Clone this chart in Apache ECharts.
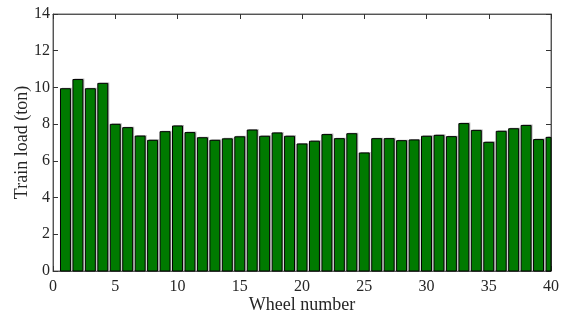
<!DOCTYPE html>
<html>
<head>
<meta charset="utf-8">
<script src="https://cdn.jsdelivr.net/npm/echarts@6/dist/echarts.min.js"></script>
<style>
  html, body { margin: 0; padding: 0; background: #fff; }
  #chart { width: 563px; height: 314px; }
</style>
</head>
<body>
<div id="chart"></div>
<script>
// wheel numbers and train load
var wheels = [];
for (var i = 1; i <= 40; i++) wheels.push(i);
var loads = [
  9.93, 10.43, 9.93, 10.22, 7.99, 7.81, 7.35, 7.12, 7.59, 7.90,
  7.54, 7.26, 7.12, 7.20, 7.31, 7.68, 7.34, 7.52, 7.34, 6.92,
  7.07, 7.43, 7.21, 7.48, 6.43, 7.21, 7.21, 7.10, 7.14, 7.34,
  7.39, 7.32, 8.03, 7.66, 7.01, 7.61, 7.75, 7.93, 7.16, 7.28
];
var xTicks = { min: 0, max: 40, interval: 5 };
var yTicks = { min: 0, max: 14, interval: 2 };

var font = 'Liberation Serif';
var txt = '#262626';
var halfBar = 0.4;

var myChart = echarts.init(document.getElementById('chart'));

function axisLineStyle() {
  return { show: true, onZero: false, lineStyle: { color: '#555', width: 1 } };
}
function tickStyle() {
  return { show: true, inside: true, length: 5, lineStyle: { color: '#333', width: 1 } };
}

var option = {
  animation: false,
  grid: {
    left: 53, right: 12, top: 14, bottom: 43,
    containLabel: false, outerBoundsMode: 'none',
    show: true, borderColor: '#666', borderWidth: 1, backgroundColor: 'transparent'
  },
  xAxis: [{
    type: 'value', min: xTicks.min, max: xTicks.max, interval: xTicks.interval,
    name: 'Wheel number', nameLocation: 'middle', nameGap: 25, nameMoveOverlap: false,
    nameTextStyle: { fontFamily: font, fontSize: 18, color: txt },
    axisLabel: { fontFamily: font, fontSize: 16, color: txt, margin: 8 },
    axisLine: axisLineStyle(), axisTick: tickStyle(), splitLine: { show: false }
  }, {
    type: 'value', min: xTicks.min, max: xTicks.max, interval: xTicks.interval,
    position: 'top', axisLabel: { show: false },
    axisLine: axisLineStyle(), axisTick: tickStyle(), splitLine: { show: false }
  }],
  yAxis: [{
    type: 'value', min: yTicks.min, max: yTicks.max, interval: yTicks.interval,
    name: 'Train load (ton)', nameLocation: 'middle', nameGap: 22, nameMoveOverlap: false,
    nameTextStyle: { fontFamily: font, fontSize: 18, color: txt },
    axisLabel: { fontFamily: font, fontSize: 16, color: txt, margin: 3 },
    axisLine: axisLineStyle(), axisTick: tickStyle(), splitLine: { show: false }
  }, {
    type: 'value', min: yTicks.min, max: yTicks.max, interval: yTicks.interval,
    position: 'right', axisLabel: { show: false },
    axisLine: axisLineStyle(), axisTick: tickStyle(), splitLine: { show: false }
  }],
  series: [{
    type: 'custom',
    xAxisIndex: 0,
    yAxisIndex: 0,
    data: wheels.map(function (w, k) { return [w, loads[k]]; }),
    renderItem: function (params, api) {
      var x = api.value(0), y = api.value(1);
      var p0 = api.coord([x - halfBar, y]);
      var p1 = api.coord([x + halfBar, 0]);
      var cs = params.coordSys;
      var area = { x: cs.x, y: cs.y, width: cs.width, height: cs.height };
      var rect = echarts.graphic.clipRectByRect(
        { x: p0[0], y: p0[1], width: p1[0] - p0[0], height: p1[1] - p0[1] }, area);
      if (!rect) return;
      var shadow = echarts.graphic.clipRectByRect(
        { x: p0[0] + 1.5, y: p0[1] - 1, width: p1[0] - p0[0], height: p1[1] - p0[1] + 1 }, area);
      return {
        type: 'group',
        children: [{
          type: 'rect', shape: shadow,
          style: { fill: '#b8b8b8' }
        }, {
          type: 'rect', shape: rect,
          style: { fill: '#007a00', stroke: '#000', lineWidth: 1 }
        }]
      };
    }
  }]
};

myChart.setOption(option);
</script>
</body>
</html>
